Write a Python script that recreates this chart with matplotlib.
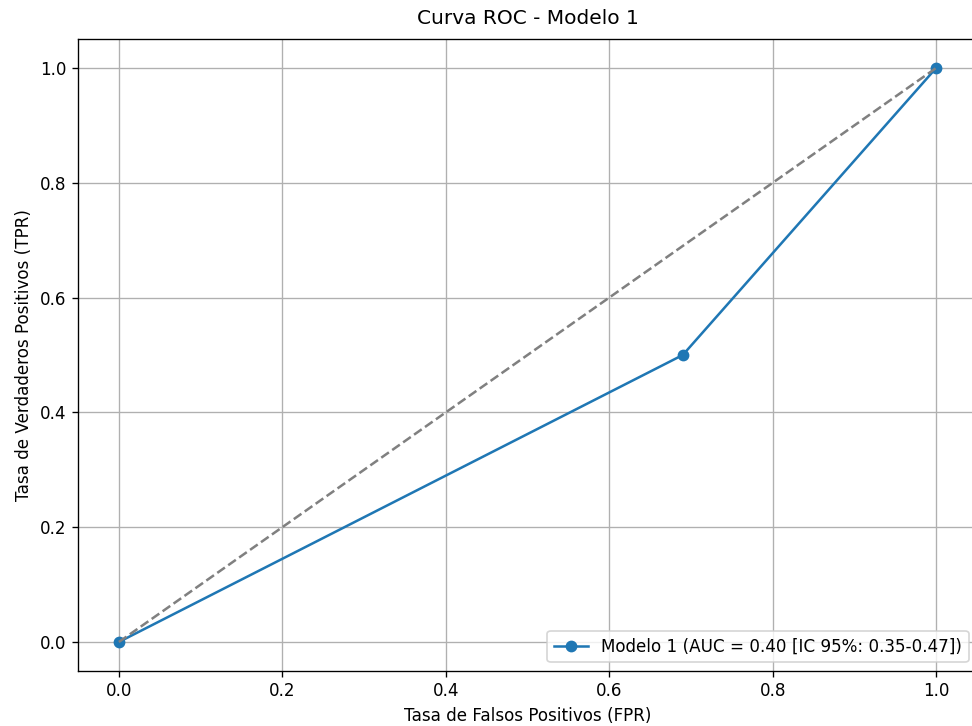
import matplotlib
matplotlib.use("Agg")
import matplotlib.pyplot as plt

fpr = [0.0, 0.69, 1.0]
tpr = [0.0, 0.5, 1.0]
diag_x = [0, 1]
diag_y = [0, 1]
label = "Modelo 1 (AUC = 0.40 [IC 95%: 0.35-0.47])"

DPI = 121
fig = plt.figure(figsize=(972 / DPI, 726 / DPI), dpi=DPI)
W, H = 972, 726
ax = fig.add_axes([78 / W, (H - 670.7) / H, (977 - 78) / W, (670.7 - 39.3) / H])
ax.plot(fpr, tpr, marker="o", color="#1f77b4", label=label)
ax.plot(diag_x, diag_y, linestyle="--", color="gray")
ax.set_xlim(-0.05, 1.05)
ax.set_ylim(-0.05, 1.05)
ax.set_xlabel("Tasa de Falsos Positivos (FPR)")
ax.set_ylabel("Tasa de Verdaderos Positivos (TPR)")
ax.set_title("Curva ROC - Modelo 1", pad=9)
ax.legend(loc="lower right")
ax.grid(True)
fig.savefig("out.png", dpi=DPI)
